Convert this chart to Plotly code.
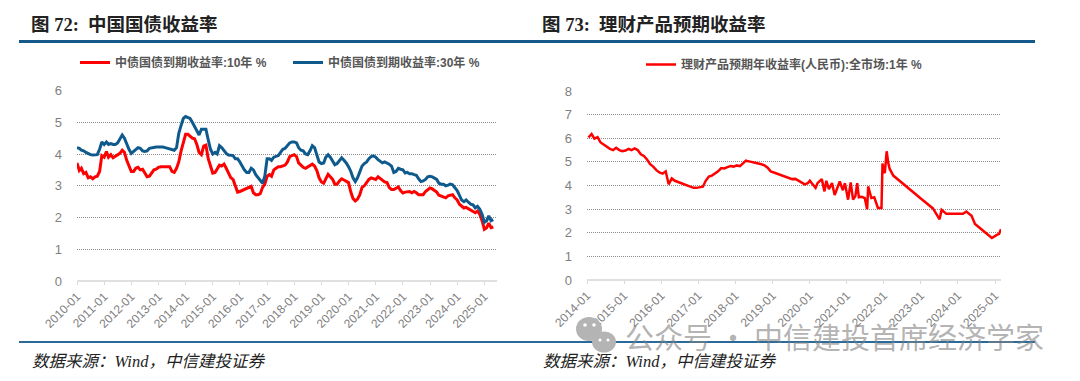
import pandas as pd
import plotly.graph_objects as go

W, H = 1080, 381

months = [d.strftime("%Y-%m-01") for d in pd.date_range("2010-01-01", "2025-05-01", freq="MS")]

y10 = [
 3.72,3.48,3.55,3.38,3.42,3.25,3.28,3.22,3.28,3.30,3.45,3.95,
 3.90,4.08,3.90,3.98,3.88,3.92,3.98,4.02,4.12,4.05,3.80,3.62,
 3.45,3.45,3.55,3.58,3.50,3.52,3.38,3.28,3.30,3.42,3.50,3.52,
 3.58,3.60,3.60,3.60,3.58,3.60,3.45,3.42,3.55,3.75,4.10,4.35,
 4.62,4.62,4.55,4.50,4.48,4.30,4.05,3.98,4.25,4.28,3.85,3.60,
 3.40,3.42,3.55,3.65,3.62,3.68,3.55,3.42,3.25,3.20,3.02,2.80,
 2.82,2.85,2.88,2.90,2.95,2.98,2.78,2.72,2.72,2.75,2.95,3.05,
 3.30,3.35,3.30,3.50,3.55,3.60,3.60,3.62,3.65,3.75,3.92,3.95,
 3.98,3.92,3.72,3.65,3.58,3.55,3.60,3.65,3.68,3.62,3.48,3.25,
 3.12,3.08,3.22,3.36,3.28,3.20,3.05,3.05,3.15,3.22,3.18,3.15,
 3.10,2.80,2.60,2.52,2.58,2.72,2.95,3.00,3.10,3.20,3.25,3.22,
 3.20,3.28,3.22,3.17,3.12,3.10,2.95,2.88,2.88,2.92,2.96,2.85,
 2.77,2.80,2.80,2.82,2.78,2.82,2.78,2.72,2.72,2.72,2.82,2.88,
 2.93,2.90,2.86,2.80,2.70,2.67,2.65,2.62,2.68,2.70,2.72,2.62,
 2.55,2.42,2.35,2.30,2.32,2.28,2.22,2.18,2.15,2.20,2.10,1.90,
 1.63,1.68,1.82,1.68,1.70]

y30 = [
 4.20,4.18,4.12,4.10,4.05,4.00,3.98,3.97,3.97,3.98,4.15,4.38,
 4.30,4.38,4.30,4.33,4.30,4.30,4.35,4.50,4.60,4.50,4.30,4.15,
 4.02,4.08,4.14,4.20,4.18,4.10,4.08,4.10,4.18,4.20,4.22,4.22,
 4.22,4.23,4.22,4.20,4.18,4.14,4.14,4.12,4.20,4.65,4.90,5.12,
 5.18,5.15,5.12,5.00,4.85,4.70,4.60,4.78,4.78,4.78,4.45,4.15,
 4.00,4.05,4.00,4.26,4.20,4.10,4.02,3.97,3.95,3.95,3.85,3.85,
 3.75,3.62,3.50,3.42,3.42,3.55,3.50,3.35,3.25,3.15,3.08,3.30,
 3.85,3.85,3.80,3.90,3.92,3.95,4.05,4.15,4.18,4.28,4.35,4.38,
 4.38,4.35,4.20,4.12,4.10,4.00,3.98,4.10,4.26,4.20,4.00,3.75,
 3.70,3.72,3.90,3.98,3.90,3.78,3.66,3.70,3.80,3.88,3.80,3.72,
 3.60,3.45,3.25,3.13,3.25,3.45,3.62,3.70,3.75,3.85,3.92,3.94,
 3.90,3.82,3.78,3.72,3.75,3.72,3.68,3.62,3.42,3.45,3.55,3.52,
 3.50,3.40,3.42,3.38,3.38,3.35,3.33,3.22,3.13,3.15,3.20,3.28,
 3.30,3.28,3.25,3.20,3.08,3.05,3.05,3.00,3.02,3.05,3.03,2.95,
 2.85,2.70,2.55,2.50,2.55,2.48,2.42,2.40,2.30,2.35,2.26,2.10,
 1.85,1.90,2.05,1.90,1.93]

wm_months = [d.strftime("%Y-%m-15") for d in pd.date_range("2014-01-01", "2019-12-01", freq="MS")]
wm_monthly = [
 6.03,6.18,5.98,6.05,5.82,5.72,5.62,5.55,5.50,5.60,5.50,5.45,
 5.48,5.55,5.50,5.57,5.50,5.32,5.25,5.10,4.90,4.80,4.65,4.55,
 4.50,4.60,4.05,4.30,4.20,4.15,4.10,4.05,4.00,3.95,3.90,3.90,
 3.92,3.95,4.20,4.38,4.42,4.50,4.60,4.74,4.72,4.78,4.82,4.80,
 4.85,4.82,4.95,5.05,5.02,5.00,4.95,4.93,4.90,4.85,4.75,4.60,
 4.55,4.50,4.45,4.42,4.35,4.30,4.27,4.28,4.20,4.15,4.05,4.10]
wm_late_dates = [
 "2020-01-05","2020-01-20","2020-03-01","2020-03-20","2020-05-01","2020-05-28","2020-06-15","2020-07-10",
 "2020-08-10","2020-09-05","2020-10-01","2020-10-25","2020-11-25","2020-12-15","2021-01-15","2021-02-10",
 "2021-03-05","2021-03-28","2021-04-15","2021-05-01","2021-05-28","2021-06-28","2021-07-22","2021-08-01",
 "2021-09-01","2021-09-30","2021-11-05","2021-12-10","2021-12-20","2022-01-01","2022-01-12","2022-01-20",
 "2022-01-30","2022-02-15","2022-03-01","2022-04-05","2022-07-01","2022-10-01","2023-01-01","2023-05-01",
 "2023-07-05","2023-07-25","2023-09-10","2024-02-20","2024-03-25","2024-05-15","2024-06-18","2024-08-05",
 "2024-12-01","2025-01-15","2025-02-10","2025-03-01"]
wm_late = [
 4.20,4.12,3.90,4.10,4.27,3.75,4.20,3.85,
 4.10,3.60,3.95,4.17,3.80,4.10,3.40,4.13,
 3.40,3.55,4.10,3.50,3.52,3.47,3.00,3.96,
 3.47,3.50,3.05,3.05,4.93,4.60,4.53,4.95,
 5.45,4.95,4.70,4.42,4.10,3.78,3.45,3.03,
 2.57,2.97,2.80,2.80,2.90,2.72,2.37,2.20,
 1.78,1.90,1.95,2.15]

left_ticks = [f"{y}-01" for y in range(2010, 2026)]
right_ticks = [f"{y}-01" for y in range(2014, 2026)]
left_y_ticks = [0,1,2,3,4,5,6]
right_y_ticks = [0,1,2,3,4,5,6,7,8]

RED = "#ff0000"
BLUE = "#0f5a8c"
GREY = "#7f7f7f"
CJK = "Liberation Sans, Noto Sans CJK SC"
SERIF = "Liberation Serif, Noto Sans CJK SC"

def fx(p): return p / W
def fy(p): return 1 - p / H

fig = go.Figure()
fig.add_trace(go.Scatter(x=months, y=y10, mode="lines", name="<b>中债国债到期收益率:10年 %</b>",
                         line=dict(color=RED, width=3), xaxis="x", yaxis="y", legend="legend"))
fig.add_trace(go.Scatter(x=months, y=y30, mode="lines", name="<b>中债国债到期收益率:30年 %</b>",
                         line=dict(color=BLUE, width=3), xaxis="x", yaxis="y", legend="legend"))
fig.add_trace(go.Scatter(x=wm_months + wm_late_dates, y=wm_monthly + wm_late, mode="lines",
                         name="<b>理财产品预期年收益率(人民币):全市场:1年 %</b>",
                         line=dict(color=RED, width=2.5), xaxis="x2", yaxis="y2", legend="legend2"))

def xaxis(domain, rng, ticks, anchor):
    return dict(domain=domain, range=rng, type="date", anchor=anchor,
                tickmode="array", tickvals=[t + "-01" for t in ticks], ticktext=ticks,
                tickangle=-45, tickfont=dict(family="Liberation Sans", size=12, color=GREY),
                showgrid=False, zeroline=False, showline=False, ticks="outside",
                ticklen=3, tickcolor="#d9d9d9", automargin=False)

def yaxis(domain, rng, ticks, anchor):
    return dict(domain=domain, range=rng, anchor=anchor, tickmode="array", tickvals=ticks,
                tickfont=dict(family="Liberation Sans", size=13, color=GREY),
                showgrid=True, gridcolor="#8c8c8c", griddash="1px,1px", gridwidth=1,
                zeroline=True, zerolinecolor="#e0e0e0", zerolinewidth=2,
                showline=False, ticks="", ticklabelstandoff=14, automargin=False)

fig.update_layout(
    width=W, height=H, margin=dict(l=0, r=0, t=0, b=0),
    paper_bgcolor="white", plot_bgcolor="white", showlegend=True,
    xaxis=xaxis([fx(77), fx(497)], ["2010-01-01", "2025-06-20"], left_ticks, "y"),
    yaxis=yaxis([fy(281), fy(90.5)], [0, 6], left_y_ticks, "x"),
    xaxis2=xaxis([fx(587), fx(1001)], ["2014-01-01", "2025-03-01"], right_ticks, "y2"),
    yaxis2=yaxis([fy(280), fy(91)], [0, 8], right_y_ticks, "x2"),
    legend=dict(orientation="h", x=fx(75), y=fy(48), xanchor="left", yanchor="top",
                font=dict(family=CJK, size=12, color="#555555"), bgcolor="rgba(0,0,0,0)",
                itemwidth=30, entrywidth=168, entrywidthmode="pixels"),
    legend2=dict(orientation="h", x=fx(641), y=fy(50), xanchor="left", yanchor="top",
                 font=dict(family=CJK, size=12, color="#555555"), bgcolor="rgba(0,0,0,0)",
                 itemwidth=30),
    font=dict(family=CJK),
)

def note(text, px, py, size, family=SERIF, color="#222222", **kw):
    fig.add_annotation(text=text, x=fx(px), y=fy(py), xref="paper", yref="paper",
                       xanchor="left", yanchor="middle", showarrow=False,
                       font=dict(family=family, size=size, color=color), **kw)

note("<b>图 72:  中国国债收益率</b>", 29, 25, 18.5)
note("<b>图 73:  理财产品预期收益率</b>", 540, 25, 18.5)
note("<i>数据来源：Wind，中信建投证券</i>", 30, 361, 16.5)
note("<i>数据来源：Wind，中信建投证券</i>", 541, 361, 16.5)

shapes = []
for x0, x1 in [(19, 1035)]:
    shapes.append(dict(type="line", xref="paper", yref="paper", x0=fx(x0), x1=fx(x1), y0=fy(41.5), y1=fy(41.5),
                       line=dict(color="#14598a", width=3)))
    shapes.append(dict(type="line", xref="paper", yref="paper", x0=fx(x0), x1=fx(x1), y0=fy(342), y1=fy(342),
                       line=dict(color="#2a6a9a", width=2)))
# WeChat-style watermark icon
for cx, cy, rx, ry, col in [(589, 329, 13, 12, "#b4b4b4"), (604, 342, 12, 10.5, "#b4b4b4"),
                            (585, 325, 1.8, 1.8, "#ffffff"), (594, 325, 1.8, 1.8, "#ffffff"),
                            (600, 340, 1.5, 1.5, "#ffffff"), (608, 340, 1.5, 1.5, "#ffffff")]:
    shapes.append(dict(type="circle", xref="paper", yref="paper", x0=fx(cx-rx), x1=fx(cx+rx),
                       y0=fy(cy+ry), y1=fy(cy-ry), fillcolor=col, line=dict(width=0), layer="above"))
fig.update_layout(shapes=shapes)

note("公众号 · 中信建投首席经济学家", 623, 336, 29, family="Noto Sans CJK SC", color="rgba(130,130,130,0.62)")

fig.write_html("out.html", config={"displayModeBar": False},
               post_script="document.body.style.margin='0';document.body.style.overflow='hidden';")
